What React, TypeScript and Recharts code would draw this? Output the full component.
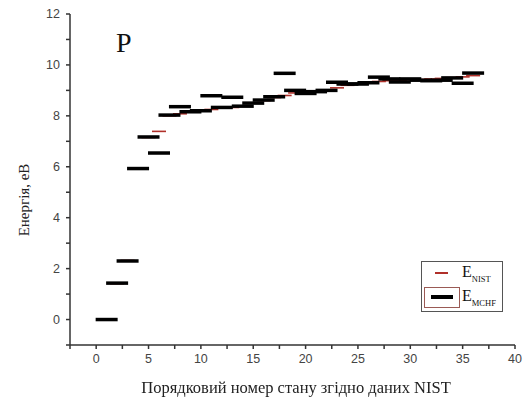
import { ScatterChart, Scatter, XAxis, YAxis, Legend } from 'recharts';

// порядковий номер стану (NIST)
const stateNo = [1, 2, 3, 4, 5, 6, 7, 8, 9, 10, 11, 12, 13, 14, 15, 16, 17, 18, 19, 20, 21, 22, 23, 24, 25, 26, 27, 28, 29, 30, 31, 32, 33, 34, 35, 36];
const eNist = [0, 1.41, 2.32, 5.95, 7.15, 7.39, 8.0, 8.08, 8.15, 8.2, 8.25, 8.3, 8.33, 8.38, 8.5, 8.6, 8.72, 8.8, 8.9, 8.93, 8.97, 9.02, 9.1, 9.2, 9.25, 9.3, 9.35, 9.38, 9.4, 9.42, 9.43, 9.45, 9.47, 9.5, 9.53, 9.58];
const eMchf = [0, 1.43, 2.3, 5.93, 7.17, 6.54, 8.03, 8.36, 8.16, 8.2, 8.79, 8.33, 8.73, 8.38, 8.5, 8.62, 8.75, 9.67, 9.0, 8.88, 8.95, 9.0, 9.32, 9.25, 9.25, 9.3, 9.52, 9.45, 9.33, 9.45, 9.4, 9.38, 9.4, 9.49, 9.28, 9.68];

const xTicks = [-2.5, 0, 2.5, 5, 7.5, 10, 12.5, 15, 17.5, 20, 22.5, 25, 27.5, 30, 32.5, 35, 37.5, 40];
const yTicks = [-1, 0, 1, 2, 3, 4, 5, 6, 7, 8, 9, 10, 11, 12];

const nistData = stateNo.map((n, i) => ({ n, e: eNist[i] }));
const mchfData = stateNo.map((n, i) => ({ n, e: eMchf[i] }));

const serif = '"Liberation Serif", "DejaVu Serif", serif';
const sans = '"Liberation Sans", Arial, sans-serif';
const RED = '#b0302a';

const NistDash = (p: any) => (
  <line x1={p.cx - 7} x2={p.cx + 7} y1={p.cy} y2={p.cy} stroke={RED} strokeWidth={1.6} />
);
const MchfDash = (p: any) => (
  <line x1={p.cx - 11} x2={p.cx + 11} y1={p.cy} y2={p.cy} stroke="#000" strokeWidth={3.5} />
);

const XTick = (p: any) => {
  const v = p.payload.value;
  if (v < 0 || v % 5 !== 0) return <g />;
  return (
    <text x={p.x} y={p.y} dy="0.71em" textAnchor="middle" fontSize={12.5} fill="#444" fontFamily={sans}>
      {v}
    </text>
  );
};

const YTick = (p: any) => {
  const v = p.payload.value;
  if (v < 0 || v % 2 !== 0) return <g />;
  return (
    <text x={p.x} y={p.y} dy="0.35em" textAnchor="end" fontSize={12.5} fill="#444" fontFamily={sans}>
      {v}
    </text>
  );
};

const sub = { fontSize: 8.5, verticalAlign: -5 } as const;

const LegendBox = () => (
  <div
    style={{
      width: 80,
      height: 49,
      border: '1px solid #555',
      background: '#fff',
      fontFamily: serif,
      position: 'relative',
    }}
  >
    <div style={{ position: 'absolute', left: 13, top: 10, width: 13, height: 1.6, background: RED }} />
    <div style={{ position: 'absolute', left: 40, top: 1, fontSize: 16, color: '#111' }}>
      E<sub style={sub}>NIST</sub>
    </div>
    <div
      style={{
        position: 'absolute',
        left: 2,
        top: 25,
        width: 34,
        height: 19,
        border: '1px solid #9a5a55',
      }}
    />
    <div style={{ position: 'absolute', left: 9, top: 33, width: 22, height: 3.5, background: '#000' }} />
    <div style={{ position: 'absolute', left: 40, top: 25, fontSize: 16, color: '#111' }}>
      E<sub style={sub}>MCHF</sub>
    </div>
  </div>
);

export default function App() {
  return (
    <div style={{ position: 'fixed', left: 0, top: 0, width: 523, height: 403, background: '#fff' }}>
      <ScatterChart width={523} height={403} margin={{ top: 14, right: 8, bottom: 28, left: 30 }}>
        <XAxis
          type="number"
          dataKey="n"
          domain={[-2.5, 40]}
          ticks={xTicks}
          interval={0}
          height={30}
          tickSize={4}
          tickMargin={5}
          stroke="#333"
          strokeWidth={1.5}
          tick={<XTick />}
          allowDataOverflow
        />
        <YAxis
          type="number"
          dataKey="e"
          domain={[-1, 12]}
          ticks={yTicks}
          interval={0}
          width={40}
          tickSize={4}
          tickMargin={6}
          stroke="#333"
          strokeWidth={1.5}
          tick={<YTick />}
          allowDataOverflow
        />
        <Legend
          layout="horizontal"
          verticalAlign="middle"
          align="center"
          content={() => <LegendBox />}
          wrapperStyle={{ position: 'absolute', left: 421, top: 261, width: 82, height: 51 }}
        />
        <Scatter name="E_NIST" data={nistData} shape={<NistDash />} isAnimationActive={false} />
        <Scatter name="E_MCHF" data={mchfData} shape={<MchfDash />} isAnimationActive={false} />
      </ScatterChart>
      <div style={{ position: 'absolute', left: 116, top: 27, fontFamily: serif, fontSize: 28, color: '#111' }}>P</div>
      <div
        style={{
          position: 'absolute',
          left: 0,
          width: 592,
          top: 378,
          textAlign: 'center',
          fontFamily: serif,
          fontSize: 16.5,
          color: '#222',
          whiteSpace: 'nowrap',
        }}
      >
        Порядковий номер стану згідно даних NIST
      </div>
      <div
        style={{
          position: 'absolute',
          left: 24,
          top: 200,
          transform: 'translate(-50%, -50%) rotate(-90deg)',
          whiteSpace: 'nowrap',
          fontFamily: serif,
          fontSize: 15,
          color: '#222',
        }}
      >
        Енергія, еВ
      </div>
    </div>
  );
}
